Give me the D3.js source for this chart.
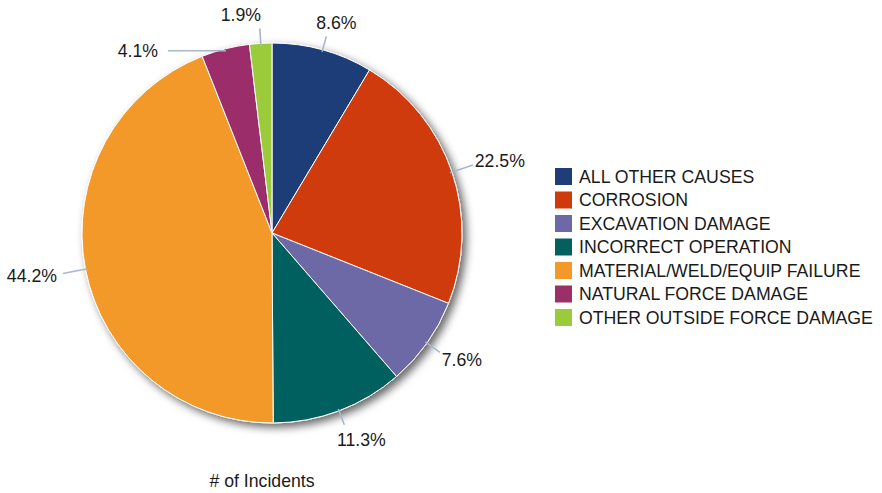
<!DOCTYPE html>
<html>
<head>
<meta charset="utf-8">
<script src="https://cdn.jsdelivr.net/npm/d3@7"></script>
<style>
  html, body { margin: 0; padding: 0; background: #ffffff; }
  svg { display: block; font-family: "Liberation Sans", Arial, sans-serif; }
</style>
</head>
<body>
<svg id="chart" width="882" height="493"></svg>
<script>
// Pipeline incident causes, share of incidents (%)
const categories = [
  "ALL OTHER CAUSES",
  "CORROSION",
  "EXCAVATION DAMAGE",
  "INCORRECT OPERATION",
  "MATERIAL/WELD/EQUIP FAILURE",
  "NATURAL FORCE DAMAGE",
  "OTHER OUTSIDE FORCE DAMAGE"
];
const shares = [8.6, 22.5, 7.6, 11.3, 44.2, 4.1, 1.9];
const colors = ["#1f3d78", "#cf3a0c", "#6c69a6", "#03605e", "#f2992a", "#9b2f6a", "#9bcb3b"];
const chartTitle = "# of Incidents";

// Leader-line length beyond the rim, optional fixed direction (deg, 0 = up, clockwise),
// and where the label text sits relative to the leader's end (centre x, baseline y).
const labelLayout = [
  { len: 14, dx: 10,  dy: -7 },
  { len: 22, dx: 27,  dy: 2 },
  { len: 16, dx: 22,  dy: 14 },
  { len: 15, dx: 17,  dy: 21 },
  { len: 23, dx: -31, dy: 9 },
  { len: 58, dir: -90, dx: -30, dy: 6 },
  { len: 15, dx: -19, dy: -7 }
];

const svg = d3.select("#chart");
const cx = 272, cy = 233, radius = 190;
const fontSize = 17.7;
const textColor = "#1a1a1a";

const defs = svg.append("defs");
const shadow = defs.append("filter")
  .attr("id", "pieShadow")
  .attr("x", "-20%").attr("y", "-20%")
  .attr("width", "140%").attr("height", "140%");
shadow.append("feDropShadow")
  .attr("dx", 4).attr("dy", 4)
  .attr("stdDeviation", 4)
  .attr("flood-color", "#000")
  .attr("flood-opacity", 0.6);

const data = categories.map((c, i) => ({ name: c, value: shares[i], color: colors[i], layout: labelLayout[i] }));

const pie = d3.pie().sort(null).value(d => d.value);
const arcs = pie(data);
const arc = d3.arc().innerRadius(0).outerRadius(radius);

const g = svg.append("g").attr("transform", `translate(${cx},${cy})`);

// Slices
g.append("g")
  .attr("filter", "url(#pieShadow)")
  .selectAll("path")
  .data(arcs)
  .join("path")
  .attr("d", arc)
  .attr("fill", d => d.data.color)
  .attr("stroke", "#ffffff")
  .attr("stroke-width", 1)
  .attr("stroke-linejoin", "round");

// Leader lines and percentage labels
const fmt = d3.format(".1f");
arcs.forEach(a => {
  const mid = (a.startAngle + a.endAngle) / 2;
  const L = a.data.layout;
  const sx = Math.sin(mid) * (radius - 2);
  const sy = -Math.cos(mid) * (radius - 2);
  let ex, ey;
  if (L.dir !== undefined) {
    const t = L.dir * Math.PI / 180;
    ex = sx + Math.sin(t) * L.len;
    ey = sy - Math.cos(t) * L.len;
  } else {
    ex = Math.sin(mid) * (radius + L.len);
    ey = -Math.cos(mid) * (radius + L.len);
  }
  g.append("line")
    .attr("x1", sx).attr("y1", sy)
    .attr("x2", ex).attr("y2", ey)
    .attr("stroke", "#aab6cc")
    .attr("stroke-width", 1.6);
  g.append("text")
    .attr("x", ex + L.dx)
    .attr("y", ey + L.dy)
    .attr("text-anchor", "middle")
    .attr("font-size", fontSize)
    .attr("fill", textColor)
    .text(fmt(a.data.value) + "%");
});

// Title under the pie
svg.append("text")
  .attr("x", 262).attr("y", 487)
  .attr("text-anchor", "middle")
  .attr("font-size", fontSize)
  .attr("fill", textColor)
  .text(chartTitle);

// Legend
const legendX = 555, legendTop = 168, rowH = 23.5, sw = 17;
const legend = svg.append("g")
  .selectAll("g")
  .data(data)
  .join("g")
  .attr("transform", (d, i) => `translate(${legendX},${legendTop + i * rowH})`);
legend.append("rect")
  .attr("width", sw).attr("height", sw)
  .attr("fill", d => d.color);
legend.append("text")
  .attr("x", 24).attr("y", sw / 2 + 6.3)
  .attr("font-size", fontSize)
  .attr("fill", textColor)
  .text(d => d.name);
</script>
</body>
</html>
